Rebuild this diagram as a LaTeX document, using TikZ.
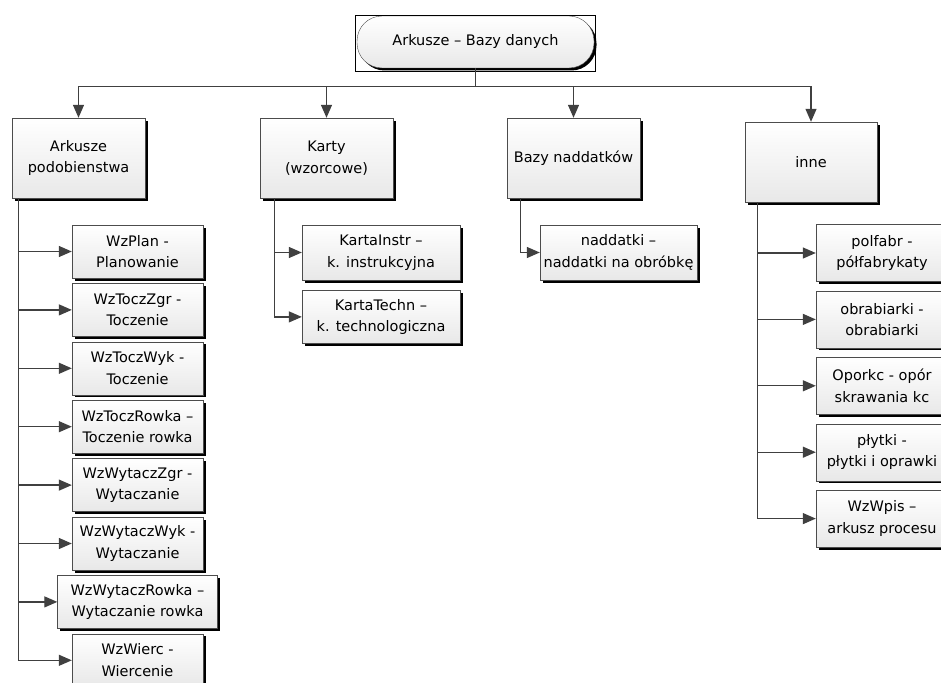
\documentclass[tikz,border=0pt]{standalone}
\usepackage{fontspec}
\setmainfont{DejaVu Sans}
\usetikzlibrary{arrows.meta,positioning,shadows,fit}

\begin{document}
\begin{tikzpicture}[
    x=1pt, y=-1pt,
    >={Triangle[length=13pt,width=11pt]},
    font=\fontsize{14.5}{21.5}\selectfont,
    box/.style={
		rectangle,
		draw=black!70,
		top color=white,
		bottom color=black!9,
		align=center,
		inner sep=2pt,
		drop shadow={shadow xshift=2.5pt, shadow yshift=-2.5pt, fill=black, opacity=1}
	},
	group/.style={
		box,
		minimum width=133pt,
		minimum height=80pt
	},
	item/.style={
		box,
		minimum width=131pt,
		minimum height=53pt
	},
	root/.style={
		box,
		rounded corners=25pt,
		minimum width=237pt,
		minimum height=52pt
	},
	link/.style={
		draw=black!75,
		line width=1.3pt
	}
  ]
    % picture frame
  \useasboundingbox (0,0) rectangle (941,682);
  \clip (0,0) rectangle (941,682);

    % We start by placing the blocks
  \node [root] (root) at (475.5,42) {Arkusze – Bazy danych};
  \node [draw=black, line width=1pt, fit=(root), inner xsep=1.5pt, inner ysep=2pt, yshift=-1.5pt] (rootframe) {};

  \node [group] (arkusze) at (78.5,158) {Arkusze\\podobienstwa};
  \node [group] (karty) at (326.5,158) {Karty\\(wzorcowe)};
  \node [group] (bazy) at (573.5,158) {Bazy naddatków};
  \node [group, minimum width=132pt] (inne) at (811,162) {inne};

    % sheets of similarity
  \node [item] (wzplan) at (137.5,251.5) {WzPlan -\\Planowanie};
  \node [item, below=5pt of wzplan] (wztoczzgr) {WzToczZgr -\\Toczenie};
  \node [item, below=5pt of wztoczzgr] (wztoczwyk) {WzToczWyk -\\Toczenie};
  \node [item, below=5pt of wztoczwyk] (wztoczrowka) {WzToczRowka –\\Toczenie rowka};
  \node [item, below=5pt of wztoczrowka] (wzwytaczzgr) {WzWytaczZgr -\\Wytaczanie};
  \node [item, below=5pt of wzwytaczzgr] (wzwytaczwyk) {WzWytaczWyk -\\Wytaczanie};
  \node [item, minimum width=160pt, below=5pt of wzwytaczwyk] (wzwytaczrowka) {WzWytaczRowka –\\Wytaczanie rowka};
  \node [item, below=5pt of wzwytaczrowka] (wzwierc) {WzWierc -\\Wiercenie};

    % cards
  \node [item, minimum width=158pt, minimum height=55pt] (kartainstr) at (381,252.5) {KartaInstr –\\k. instrukcyjna};
  \node [item, minimum width=158pt, minimum height=53pt, below=10pt of kartainstr] (kartatechn) {KartaTechn –\\k. technologiczna};

    % allowances
  \node [item, minimum width=157pt, minimum height=55pt, inner xsep=1pt] (naddatki) at (618.5,252.5) {naddatki –\\naddatki na obróbkę};

    % others
  \node [item, minimum width=132pt, minimum height=57pt] (polfabr) at (882,253) {polfabr -\\półfabrykaty};
  \node [item, minimum width=132pt, minimum height=57pt, below=9pt of polfabr] (obrabiarki) {obrabiarki -\\obrabiarki};
  \node [item, minimum width=132pt, minimum height=57pt, below=9pt of obrabiarki] (oporkc) {Oporkc - opór\\skrawania kc};
  \node [item, minimum width=132pt, minimum height=57pt, below=9pt of oporkc] (plytki) {płytki -\\płytki i oprawki};
  \node [item, minimum width=132pt, minimum height=57pt, below=9pt of plytki] (wzwpis) {WzWpis –\\arkusz procesu};

    % connectors from the root
  \draw [link] (root.south) -- ++(0,18) coordinate (bus);
  \draw [link,->] (bus) -| (arkusze);
  \draw [link,->] (bus) -| (karty);
  \draw [link,->] (bus) -| (bazy);
  \draw [link,->] (bus) -| (inne);

  \draw [link,->] ([xshift=7pt]arkusze.south west) |- (wzplan);
  \draw [link,->] ([xshift=7pt]arkusze.south west) |- (wztoczzgr);
  \draw [link,->] ([xshift=7pt]arkusze.south west) |- (wztoczwyk);
  \draw [link,->] ([xshift=7pt]arkusze.south west) |- (wztoczrowka);
  \draw [link,->] ([xshift=7pt]arkusze.south west) |- (wzwytaczzgr);
  \draw [link,->] ([xshift=7pt]arkusze.south west) |- (wzwytaczwyk);
  \draw [link,->] ([xshift=7pt]arkusze.south west) |- (wzwytaczrowka);
  \draw [link,->] ([xshift=7pt]arkusze.south west) |- (wzwierc);

  \draw [link,->] ([xshift=15pt]karty.south west) |- (kartainstr);
  \draw [link,->] ([xshift=15pt]karty.south west) |- (kartatechn);

  \draw [link,->] ([xshift=14pt]bazy.south west) |- (naddatki);

  \draw [link,->] ([xshift=13pt]inne.south west) |- (polfabr);
  \draw [link,->] ([xshift=13pt]inne.south west) |- (obrabiarki);
  \draw [link,->] ([xshift=13pt]inne.south west) |- (oporkc);
  \draw [link,->] ([xshift=13pt]inne.south west) |- (plytki);
  \draw [link,->] ([xshift=13pt]inne.south west) |- (wzwpis);

\end{tikzpicture}
\end{document}
